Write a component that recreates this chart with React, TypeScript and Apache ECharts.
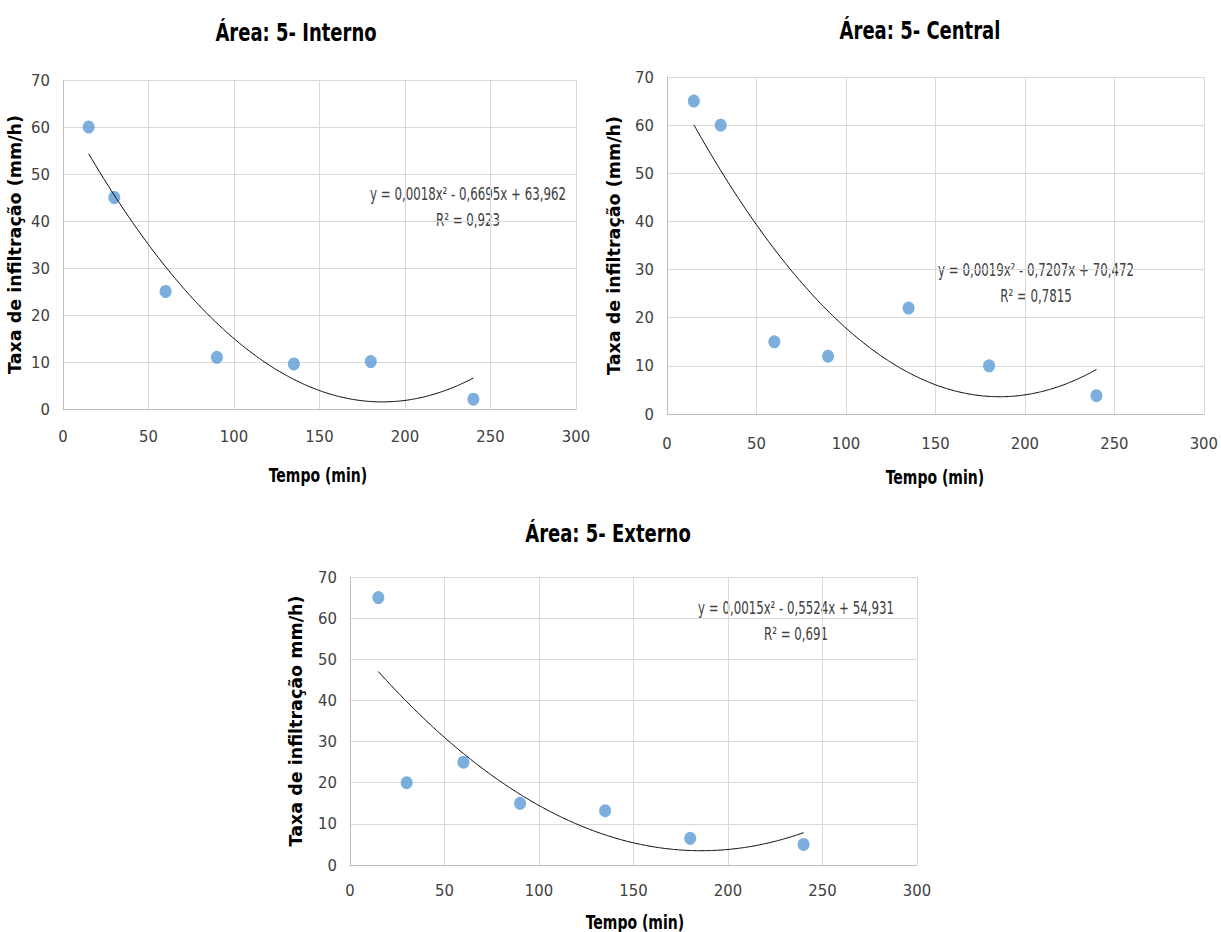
import React, { useEffect, useRef } from "react";
import * as echarts from "echarts";

// ---- data ----
const tempo = [15, 30, 60, 90, 135, 180, 240];
const taxaInterno = [60, 45, 25, 11, 9.6, 10.1, 2.1];
const taxaCentral = [65, 60, 15, 12, 22, 10, 3.8];
const taxaExterno = [65, 20, 25, 15, 13.2, 6.5, 5];

// trendline equations as printed on the chart
const eqInterno = "y = 0,0018x² - 0,6695x + 63,962";
const eqCentral = "y = 0,0019x² - 0,7207x + 70,472";
const eqExterno = "y = 0,0015x² - 0,5524x + 54,931";
const r2Interno = "R² = 0,923";
const r2Central = "R² = 0,7815";
const r2Externo = "R² = 0,691";

const titles = ["Área: 5- Interno", "Área: 5- Central", "Área: 5- Externo"];
const xName = "Tempo (min)";
const yNames = ["Taxa de infiltração (mm/h)", "Taxa de infiltração (mm/h)", "Taxa de infiltração mm/h)"];
const xTicks = [0, 50, 100, 150, 200, 250, 300];
const yTicks = [0, 10, 20, 30, 40, 50, 60, 70];

const NARROW = "'Liberation Sans Narrow', 'DejaVu Sans Condensed', sans-serif";
const WIDE_BOLD = "'DejaVu Sans', 'Liberation Sans', sans-serif";

// least-squares 2nd order polynomial fit (what the spreadsheet trendline does)
const polyFit = (xs: number[], ys: number[]) => {
  const n = xs.length;
  let s1 = 0, s2 = 0, s3 = 0, s4 = 0, t0 = 0, t1 = 0, t2 = 0;
  for (let i = 0; i < n; i++) {
    const x = xs[i], y = ys[i];
    s1 += x; s2 += x * x; s3 += x * x * x; s4 += x * x * x * x;
    t0 += y; t1 += x * y; t2 += x * x * y;
  }
  const M = [
    [n, s1, s2, t0],
    [s1, s2, s3, t1],
    [s2, s3, s4, t2],
  ];
  for (let i = 0; i < 3; i++) {
    for (let j = i + 1; j < 3; j++) {
      const f = M[j][i] / M[i][i];
      for (let k = i; k < 4; k++) M[j][k] -= f * M[i][k];
    }
  }
  const sol = [0, 0, 0];
  for (let i = 2; i >= 0; i--) {
    let s = M[i][3];
    for (let k = i + 1; k < 3; k++) s -= M[i][k] * sol[k];
    sol[i] = s / M[i][i];
  }
  return sol; // [c, b, a]
};

const trend = (ys: number[]) => {
  const [c, b, a] = polyFit(tempo, ys);
  const pts: number[][] = [];
  for (let x = tempo[0]; x <= tempo[tempo.length - 1]; x += 2.5) {
    pts.push([x, a * x * x + b * x + c]);
  }
  return pts;
};

export default function App() {
  const ref = useRef<HTMLDivElement>(null);
  useEffect(() => {
    if (!ref.current) return;
    const chart = echarts.init(ref.current, undefined, { renderer: "svg" });

    const grids = [
      { left: 63, top: 80, width: 513, height: 329 },
      { left: 667, top: 77, width: 540, height: 337 },
      { left: 350, top: 577, width: 567, height: 288 },
    ];
    const titlePos = [
      { x: 296, y: 32 },
      { x: 920, y: 30 },
      { x: 608, y: 533 },
    ];
    const xNamePos = [
      { x: 318, y: 475 },
      { x: 935, y: 477 },
      { x: 635, y: 922 },
    ];
    const xLabelMargin = [19, 21, 17];
    const yNameGap = [39, 44, 45];
    const eqPos = [
      { x: 468, y: 194 },
      { x: 1036, y: 270 },
      { x: 796, y: 608 },
    ];
    const series = [
      { y: taxaInterno, eq: eqInterno, r2: r2Interno },
      { y: taxaCentral, eq: eqCentral, r2: r2Central },
      { y: taxaExterno, eq: eqExterno, r2: r2Externo },
    ];

    const scaledText = (text: string, x: number, y: number, size: number, bold: boolean, fill: string, sx: number) => ({
      type: "text",
      x,
      y,
      scaleX: sx,
      style: {
        text,
        fontFamily: NARROW,
        fontWeight: bold ? "bold" : "normal",
        fontSize: size,
        fill,
        align: "center",
        verticalAlign: "middle",
      },
    });

    const option: any = {
      animation: false,
      backgroundColor: "#ffffff",
      grid: grids.map((g) => ({ ...g, containLabel: false })),
      xAxis: grids.map((_, i) => ({
        type: "value",
        gridIndex: i,
        min: xTicks[0],
        max: xTicks[xTicks.length - 1],
        interval: 50,
        axisLine: { show: true, lineStyle: { color: "#bfbfbf", width: 1 } },
        axisTick: { show: false },
        axisLabel: { fontFamily: NARROW, fontSize: 16.5, color: "#404040", margin: xLabelMargin[i] },
        splitLine: { show: true, lineStyle: { color: "#d9d9d9", width: 1 } },
      })),
      yAxis: grids.map((_, i) => ({
        type: "value",
        gridIndex: i,
        min: yTicks[0],
        max: yTicks[yTicks.length - 1],
        interval: 10,
        name: yNames[i],
        nameLocation: "middle",
        nameGap: yNameGap[i],
        nameTextStyle: { fontFamily: WIDE_BOLD, fontWeight: "bold", fontSize: 17.5, color: "#000000" },
        axisLine: { show: true, lineStyle: { color: "#bfbfbf", width: 1 } },
        axisTick: { show: false },
        axisLabel: { fontFamily: NARROW, fontSize: 16.5, color: "#404040", margin: 13 },
        splitLine: { show: true, lineStyle: { color: "#d9d9d9", width: 1 } },
      })),
      series: series.flatMap((s, i) => [
        {
          type: "line",
          xAxisIndex: i,
          yAxisIndex: i,
          data: trend(s.y),
          showSymbol: false,
          symbol: "none",
          smooth: true,
          lineStyle: { color: "#000000", width: 1 },
          z: 3,
        },
        {
          type: "scatter",
          xAxisIndex: i,
          yAxisIndex: i,
          data: tempo.map((x, k) => [x, s.y[k]]),
          symbol: "circle",
          symbolSize: [12, 13],
          itemStyle: { color: "#5b9bd5" },
          z: 2,
        },
      ]),
      graphic: [
        ...titles.map((t, i) => scaledText(t, titlePos[i].x, titlePos[i].y, 25, true, "#000000", 0.8)),
        ...xNamePos.map((p) => scaledText(xName, p.x, p.y, 19, true, "#000000", 0.82)),
        ...series.flatMap((s, i) => [
          scaledText(s.eq, eqPos[i].x, eqPos[i].y, 17.5, false, "#404040", 0.75),
          scaledText(s.r2, eqPos[i].x, eqPos[i].y + 26, 17.5, false, "#404040", 0.75),
        ]),
      ],
    };
    chart.setOption(option);
    return () => chart.dispose();
  }, []);

  return (
    <div
      ref={ref}
      style={{ position: "fixed", left: 0, top: 0, width: 1221, height: 932, background: "#fff" }}
    />
  );
}
